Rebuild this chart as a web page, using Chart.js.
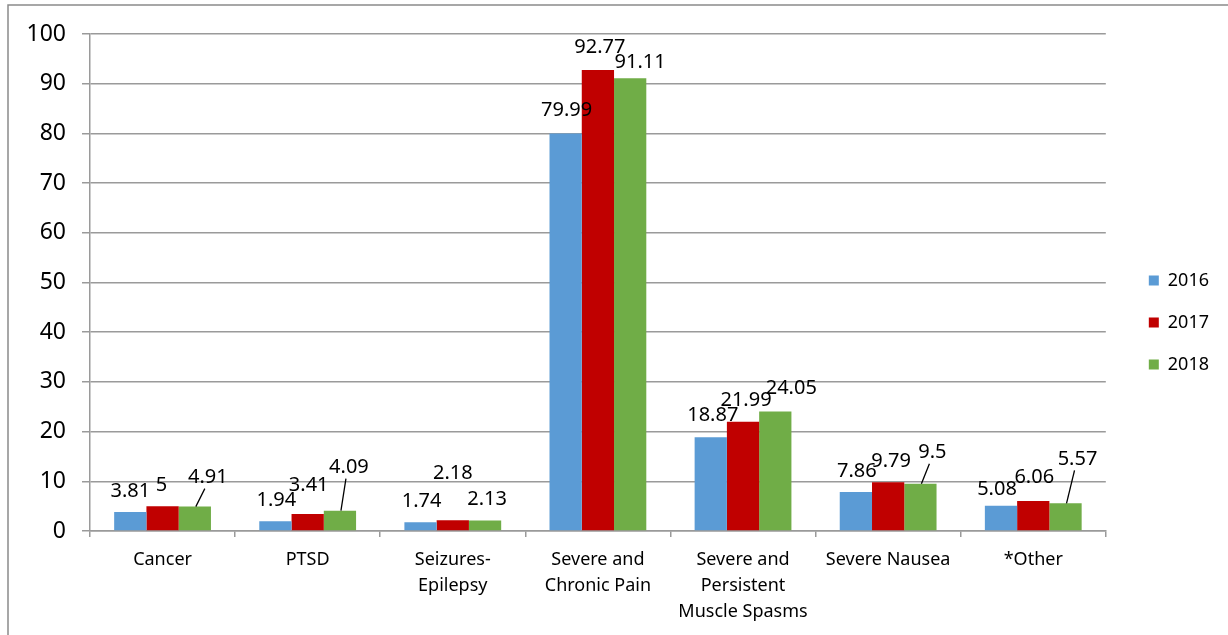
<!DOCTYPE html>
<html>
<head>
<meta charset="utf-8">
<script src="https://cdn.jsdelivr.net/npm/chart.js@4"></script>
<style>
  html, body { margin: 0; padding: 0; background: #fff; }
  #wrap { width: 1228px; height: 635px; }
</style>
</head>
<body>
<div id="wrap"><canvas id="myChart"></canvas></div>
<script>
const categories = [
    'Cancer',
    'PTSD',
    ['Seizures-', 'Epilepsy'],
    ['Severe and', 'Chronic Pain'],
    ['Severe and', 'Persistent', 'Muscle Spasms'],
    'Severe Nausea',
    '*Other'
];
const years = ['2016', '2017', '2018'];
const values2016 = [3.81, 1.94, 1.74, 79.99, 18.87, 7.86, 5.08];
const values2017 = [5, 3.41, 2.18, 92.77, 21.99, 9.79, 6.06];
const values2018 = [4.91, 4.09, 2.13, 91.11, 24.05, 9.5, 5.57];
const yTicks = [0, 10, 20, 30, 40, 50, 60, 70, 80, 90, 100];

const colors = ['#5B9BD5', '#C00000', '#70AD47'];

// where the value labels were dragged to in the original (dx, dy, leader line)
const labelNudge = [
    [[0, 0], [1, 0], [1, 0], [1, -2], [2, -1], [1, 0], [-4, 5]],
    [[-1, 0], [1, -8], [0, -26], [2, -2], [3, 0], [3, 0], [1, -3]],
    [[13, -8, 1], [9, -22, 1], [2, 0], [10, 5], [16, -2], [12, -10, 1], [12, -23, 1]]
];

const gridColor = '#9a9a9a';

const frame = {
    id: 'frame',
    beforeDraw(chart) {
        const ctx = chart.ctx;
        ctx.save();
        ctx.strokeStyle = '#8a8a8a';
        ctx.lineWidth = 1.5;
        ctx.strokeRect(8, 5, 1400, 800);
        ctx.restore();
    }
};

// nudge the legend block to where it sits in the original
const legendShift = {
    id: 'legendShift',
    afterLayout(chart) {
        const lg = chart.legend;
        lg.left += 19; lg.right += 19;
        lg.top -= 12; lg.bottom -= 12;
    }
};

const valueLabels = {
    id: 'valueLabels',
    afterDatasetsDraw(chart) {
        const ctx = chart.ctx;
        ctx.save();
        ctx.font = '20px "Noto Sans"';
        ctx.fillStyle = '#000';
        ctx.strokeStyle = '#000';
        ctx.lineWidth = 1.3;
        ctx.textAlign = 'center';
        ctx.textBaseline = 'middle';
        chart.data.datasets.forEach((ds, i) => {
            chart.getDatasetMeta(i).data.forEach((bar, j) => {
                const n = labelNudge[i][j];
                const x = bar.x + n[0];
                const y = bar.y - 21 + n[1];
                if (n[2]) {
                    ctx.beginPath();
                    ctx.moveTo(bar.x + 1, bar.y);
                    ctx.lineTo(x - 3, y + 11);
                    ctx.stroke();
                }
                ctx.fillText(String(ds.data[j]), x, y);
            });
        });
        ctx.restore();
    }
};

const data = {
    labels: categories,
    datasets: [
        { label: years[0], data: values2016, backgroundColor: colors[0] },
        { label: years[1], data: values2017, backgroundColor: colors[1] },
        { label: years[2], data: values2018, backgroundColor: colors[2] }
    ]
};

const config = {
    type: 'bar',
    data: data,
    options: {
        responsive: true,
        maintainAspectRatio: false,
        animation: false,
        datasets: { bar: { categoryPercentage: 0.667, barPercentage: 1.0 } },
        layout: { padding: { left: 0, top: 34, right: 28, bottom: 0 } },
        plugins: {
            legend: {
                position: 'right',
                labels: {
                    boxWidth: 10,
                    boxHeight: 10,
                    padding: 24,
                    color: '#000',
                    font: { family: 'Noto Sans', size: 18 }
                }
            },
            tooltip: { enabled: false }
        },
        scales: {
            x: {
                afterFit: s => { s.height = 104; },
                grid: { display: true, drawOnChartArea: false, drawTicks: true, tickLength: 6, color: gridColor, lineWidth: 1.5 },
                border: { display: true, color: gridColor, width: 1.5 },
                ticks: {
                    color: '#000',
                    padding: 10,
                    maxRotation: 0,
                    autoSkip: false,
                    font: { family: 'Noto Sans', size: 18, lineHeight: 1.45 }
                }
            },
            y: {
                min: 0,
                max: 100,
                afterFit: s => { s.width = 90; },
                afterBuildTicks: s => { s.ticks = yTicks.map(v => ({ value: v })); },
                grid: { color: gridColor, lineWidth: 1.5, tickLength: 8 },
                border: { display: true, color: gridColor, width: 1.5 },
                ticks: {
                    color: '#000',
                    padding: 16,
                    font: { family: 'Noto Sans', size: 23 }
                }
            }
        }
    },
    plugins: [frame, legendShift, valueLabels]
};

const myChart = new Chart(document.getElementById('myChart'), config);
</script>
</body>
</html>
